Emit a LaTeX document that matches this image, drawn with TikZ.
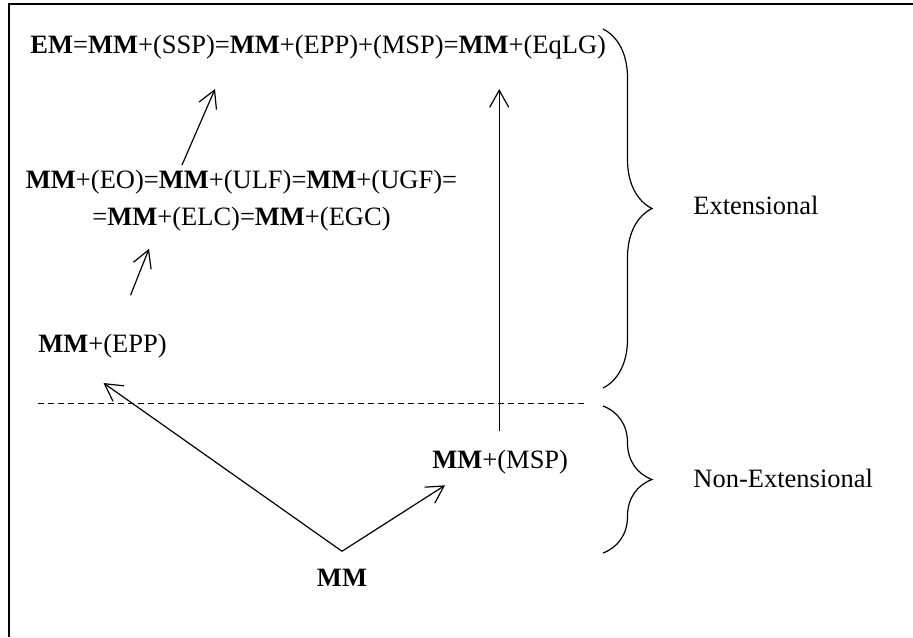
\documentclass[tikz,border=0pt]{standalone}
\usepackage{fontspec}
\setmainfont{Liberation Serif}
\usepackage{tikz}
\usetikzlibrary{calc,arrows.meta,decorations.pathreplacing}

\begin{document}
\begin{tikzpicture}[x=0.5pt,y=-0.5pt,
  txt/.style={inner sep=0pt,font=\fontsize{13.25}{18.5}\selectfont},
  arr/.style={->,>={Straight Barb[length=8.5pt,width=9.5pt]},line width=0.6pt},
  brc/.style={decorate,decoration={brace,amplitude=24.5pt},line width=0.6pt}]
\useasboundingbox (0,0) rectangle (913,637);
\draw[line width=1pt] (9,637)--(9,4)--(913,4);
% formulas
\node[txt,anchor=base west] (em) at (30,53) {\textbf{EM}=\textbf{MM}+(SSP)=\textbf{MM}+(EPP)+(MSP)=\textbf{MM}+(EqLG)};
\node[txt,anchor=north,align=center] (eo) at (241.5,170) {\textbf{MM}+(EO)=\textbf{MM}+(ULF)=\textbf{MM}+(UGF)=\\=\textbf{MM}+(ELC)=\textbf{MM}+(EGC)};
\node[txt,anchor=base west] (epp) at (38,352) {\textbf{MM}+(EPP)};
\node[txt,anchor=base west] (msp) at (432,468) {\textbf{MM}+(MSP)};
\node[txt,anchor=base] (mm) at (342,586) {\textbf{MM}};
\coordinate (fork) at ([shift={(0,-17)}]mm.north);
% arrows
\draw[arr] (fork)--([shift={(1,25)}]epp.south);
\draw[arr] (fork)--([shift={(13,11.3)}]msp.south west);
\draw[arr] ([shift={(28,-38)}]epp.north)--([shift={(-92.5,17)}]eo.south);
\draw[arr] ([shift={(-59.5,-5)}]eo.north)--([shift={(185,30)}]em.south west);
\draw[arr] ([shift={(-1,-18)}]msp.north)--($(msp.north |- em.south)+(-1,30)$);
% separator and braces
\draw[dash pattern=on 3pt off 2pt,line width=0.5pt] (38,403)--(587,403);
\draw[brc] (603,29)--(603,388);
\draw[brc] (603,406)--(603,553);
\node[txt,anchor=base west] (ext) at (693,214) {Extensional};
\node[txt,anchor=base west] (next) at (693,487) {Non-Extensional};
\end{tikzpicture}
\end{document}
